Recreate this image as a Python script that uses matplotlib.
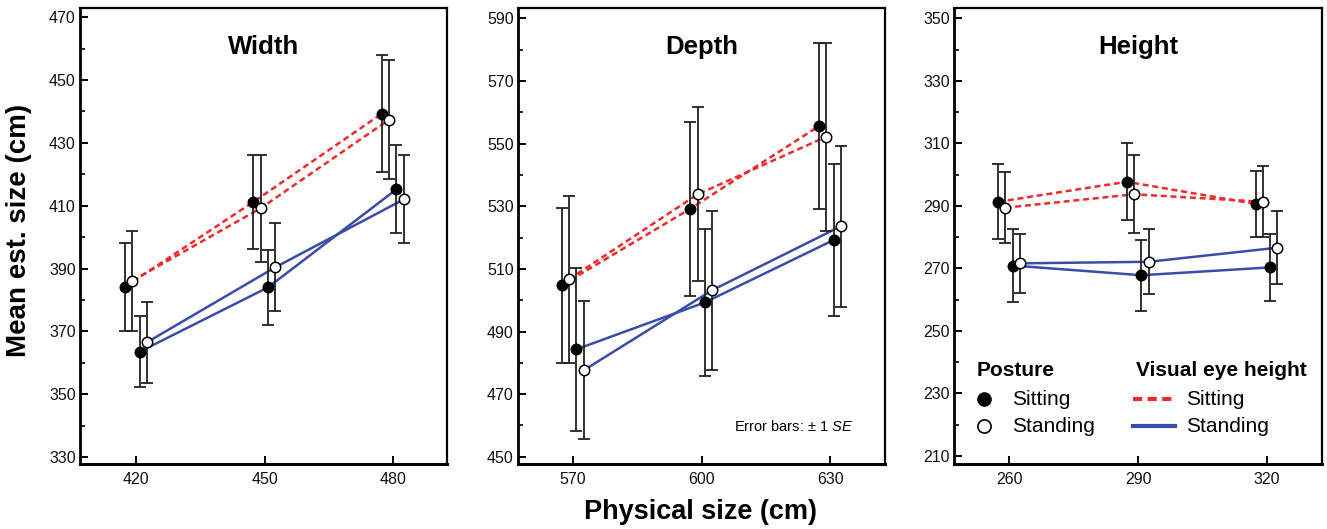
import matplotlib
matplotlib.use("Agg")
import matplotlib.pyplot as plt
from matplotlib.ticker import MultipleLocator

plt.rcParams['font.family'] = ['Liberation Sans', 'DejaVu Sans']
plt.rcParams['mathtext.fontset'] = 'custom'
plt.rcParams['mathtext.it'] = 'Liberation Sans:italic'
plt.rcParams['mathtext.rm'] = 'Liberation Sans'

# ---------------- data ----------------
panel_titles = ["Width", "Depth", "Height"]
x_width = [420, 450, 480]
x_depth = [570, 600, 630]
x_height = [260, 290, 320]

# order of conditions: (posture, visual eye height)
# sit/sit, stand/sit, sit/stand, stand/stand
width_sit_sit = [384.2, 411.2, 439.3]
width_stand_sit = [386.1, 409.2, 437.4]
width_sit_stand = [363.5, 384.0, 415.2]
width_stand_stand = [366.5, 390.4, 412.0]
width_se_sit_sit = [14.0, 15.0, 18.5]
width_se_stand_sit = [16.0, 17.0, 19.0]
width_se_sit_stand = [11.3, 12.0, 14.0]
width_se_stand_stand = [12.8, 14.0, 14.0]

depth_sit_sit = [504.8, 529.2, 555.6]
depth_stand_sit = [506.7, 533.8, 552.2]
depth_sit_stand = [484.3, 499.3, 519.2]
depth_stand_stand = [477.6, 503.2, 523.6]
depth_se_sit_sit = [24.7, 27.7, 26.6]
depth_se_stand_sit = [26.6, 27.8, 30.0]
depth_se_sit_stand = [26.0, 23.4, 24.3]
depth_se_stand_stand = [22.0, 25.4, 25.7]

height_sit_sit = [291.3, 297.7, 290.6]
height_stand_sit = [289.4, 293.7, 291.3]
height_sit_stand = [270.9, 267.8, 270.3]
height_stand_stand = [271.6, 272.1, 276.6]
height_se_sit_sit = [12.0, 12.3, 10.7]
height_se_stand_sit = [11.3, 12.5, 11.4]
height_se_sit_stand = [11.6, 11.3, 10.8]
height_se_stand_stand = [9.4, 10.4, 11.7]

y_ticks_width = [330, 350, 370, 390, 410, 430, 450, 470]
y_ticks_depth = [450, 470, 490, 510, 530, 550, 570, 590]
y_ticks_height = [210, 230, 250, 270, 290, 310, 330, 350]

# ---------------- style ----------------
RED = '#ee2a2a'
BLUE = '#3b4ba8'
offsets = [-2.6, -0.9, 0.8, 2.5]

panels = [
    dict(x=x_width, ys=[width_sit_sit, width_stand_sit, width_sit_stand, width_stand_stand],
         ses=[width_se_sit_sit, width_se_stand_sit, width_se_sit_stand, width_se_stand_stand],
         yticks=y_ticks_width, xlim=(406.9, 492.6), ylim=(327.8, 472.9)),
    dict(x=x_depth, ys=[depth_sit_sit, depth_stand_sit, depth_sit_stand, depth_stand_stand],
         ses=[depth_se_sit_sit, depth_se_stand_sit, depth_se_sit_stand, depth_se_stand_stand],
         yticks=y_ticks_depth, xlim=(557.2, 642.8), ylim=(447.7, 593.3)),
    dict(x=x_height, ys=[height_sit_sit, height_stand_sit, height_sit_stand, height_stand_stand],
         ses=[height_se_sit_sit, height_se_stand_sit, height_se_sit_stand, height_se_stand_stand],
         yticks=y_ticks_height, xlim=(247.1, 332.9), ylim=(207.4, 353.3)),
]

cond_style = [
    dict(color=RED, ls=(0, (2.4, 1.5)), face='black'),
    dict(color=RED, ls=(0, (2.4, 1.5)), face='white'),
    dict(color=BLUE, ls='-', face='black'),
    dict(color=BLUE, ls='-', face='white'),
]

W, H = 1327, 529
fig = plt.figure(figsize=(W / 100, H / 100), dpi=100)
lefts = [80, 518, 954]
right_edges = [447, 885, 1322]
top_px, bot_px = 8, 464

axes = []
for i, p in enumerate(panels):
    l = lefts[i]
    w = right_edges[i] - l
    ax = fig.add_axes([l / W, 1 - bot_px / H, w / W, (bot_px - top_px) / H])
    axes.append(ax)
    for k in range(4):
        xs = [xv + offsets[k] for xv in p['x']]
        st = cond_style[k]
        ax.plot(xs, p['ys'][k], color=st['color'], linestyle=st['ls'], lw=1.8, zorder=2)
        ax.errorbar(xs, p['ys'][k], yerr=p['ses'][k], fmt='none', ecolor='#222222',
                    elinewidth=1.3, capsize=4.2, capthick=1.3, zorder=3)
        ax.plot(xs, p['ys'][k], linestyle='none', marker='o', ms=7.5,
                mfc=st['face'], mec='black', mew=1.1, zorder=4)
    ax.set_xlim(*p['xlim'])
    ax.set_ylim(*p['ylim'])
    ax.set_xticks(p['x'])
    ax.set_yticks(p['yticks'])
    ax.yaxis.set_minor_locator(MultipleLocator(10))
    ax.tick_params(axis='both', which='major', direction='in', length=6, width=1.4,
                   labelsize=11.5, pad=3, colors='black', labelcolor='#111111')
    ax.tick_params(axis='y', which='minor', direction='in', length=3.5, width=1.2)
    ax.tick_params(axis='x', which='major', pad=6)
    for s in ax.spines.values():
        s.set_linewidth(1.6)
    ax.spines['bottom'].set_linewidth(2.2)
    ax.spines['left'].set_linewidth(2.0)
    ax.text(0.5, 0.914, panel_titles[i], transform=ax.transAxes, ha='center',
            va='center', fontsize=18.5, fontweight='bold')

# error bar note
axes[1].text(0.912, 0.082, r'Error bars: $\pm$ 1 $\it{SE}$', transform=axes[1].transAxes,
             ha='right', va='center', fontsize=10.5)

# legend (manual, in Height panel)
ax = axes[2]
ax.text(0.0625, 0.206, 'Posture', transform=ax.transAxes, ha='left', va='center',
        fontsize=15, fontweight='bold')
ax.text(0.4946, 0.206, 'Visual eye height', transform=ax.transAxes, ha='left',
        va='center', fontsize=15, fontweight='bold')
ax.plot([0.0815], [0.1425], transform=ax.transAxes, marker='o', ms=9.5, mfc='black',
        mec='black', ls='none', clip_on=False)
ax.plot([0.0815], [0.0833], transform=ax.transAxes, marker='o', ms=9.5, mfc='white',
        mec='black', mew=1.2, ls='none', clip_on=False)
ax.text(0.157, 0.1425, 'Sitting', transform=ax.transAxes, ha='left', va='center', fontsize=15)
ax.text(0.157, 0.0833, 'Standing', transform=ax.transAxes, ha='left', va='center', fontsize=15)
ax.plot([0.486, 0.60], [0.1425, 0.1425], transform=ax.transAxes, color=RED,
        ls=(0, (2.2, 1.3)), lw=3.0, clip_on=False)
ax.plot([0.486, 0.60], [0.0833, 0.0833], transform=ax.transAxes, color=BLUE,
        ls='-', lw=3.0, clip_on=False)
ax.text(0.630, 0.1425, 'Sitting', transform=ax.transAxes, ha='left', va='center', fontsize=15)
ax.text(0.630, 0.0833, 'Standing', transform=ax.transAxes, ha='left', va='center', fontsize=15)

fig.text(19 / W, 1 - 230 / H, 'Mean est. size (cm)', rotation=90, ha='center', va='center',
         fontsize=20, fontweight='bold')
fig.text(700 / W, 1 - 512 / H, 'Physical size (cm)', ha='center', va='center',
         fontsize=19.5, fontweight='bold')

fig.savefig('out.png', dpi=100)
